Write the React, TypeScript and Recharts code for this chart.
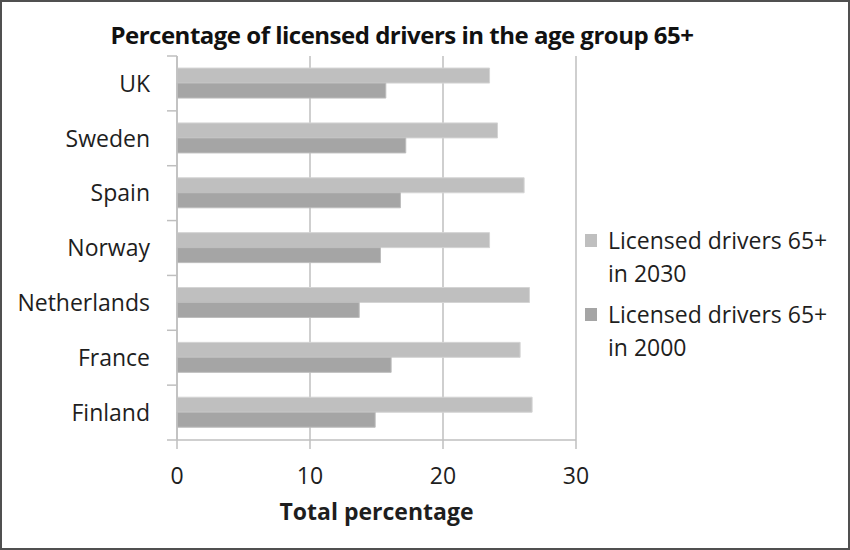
import React from "react";
import {
  Bar,
  BarChart,
  CartesianGrid,
  Legend,
  Label,
  XAxis,
  YAxis
} from "recharts";

const countries = ["UK", "Sweden", "Spain", "Norway", "Netherlands", "France", "Finland"];
const drivers2030 = [23.5, 24.1, 26.1, 23.5, 26.5, 25.8, 26.7];
const drivers2000 = [15.7, 17.2, 16.8, 15.3, 13.7, 16.1, 14.9];
const xTicks = [0, 10, 20, 30];

const SERIES = [
  { key: "y2030", name: "Licensed drivers 65+", sub: "in 2030", color: "#bfbfbf", edge: "#d4d4d4" },
  { key: "y2000", name: "Licensed drivers 65+", sub: "in 2000", color: "#a5a5a5", edge: "#bdbdbd" }
];

const data = countries.map((name, i) => ({
  name,
  y2030: drivers2030[i],
  y2000: drivers2000[i]
}));

const FONT = "'Open Sans', sans-serif";
const TEXT = "#1e1e1e";
const GRID = "#bfbfbf";

const W = 846;
const H = 546;
const M_TOP = 54;
const M_RIGHT = 272;
const Y_W = 175;
const X_H = 108;
const BAND = (H - M_TOP - X_H) / countries.length;

function CountryTick(props: any) {
  const { y, payload, index } = props;
  const last = index === countries.length - 1;
  return (
    <g>
      <line x1={Y_W - 10} x2={Y_W} y1={y - BAND / 2} y2={y - BAND / 2} stroke={GRID} strokeWidth={1.5} />
      {last && (
        <line x1={Y_W - 10} x2={Y_W} y1={y + BAND / 2} y2={y + BAND / 2} stroke={GRID} strokeWidth={1.5} />
      )}
      <text
        x={Y_W - 27}
        y={y}
        dy="0.36em"
        textAnchor="end"
        fill={TEXT}
        fontSize={23}
        fontFamily={FONT}
      >
        {payload.value}
      </text>
    </g>
  );
}

function renderLegend() {
  return (
    <div style={{ fontFamily: FONT, fontSize: 23, color: TEXT }}>
      {SERIES.map((s) => (
        <div key={s.key} style={{ position: "relative", paddingLeft: 23, lineHeight: "33px", marginBottom: 8 }}>
          <span
            style={{
              position: "absolute",
              left: 0,
              top: 10,
              width: 12,
              height: 13,
              background: s.color
            }}
          />
          <div>{s.name}</div>
          <div>{s.sub}</div>
        </div>
      ))}
    </div>
  );
}

export default function App() {
  return (
    <div
      style={{
        position: "absolute",
        left: 0,
        top: 0,
        width: 850,
        height: 550,
        boxSizing: "border-box",
        border: "2px solid #505050",
        background: "#fff"
      }}
    >
      <div
        style={{
          position: "absolute",
          left: 0,
          top: 16,
          width: 800,
          textAlign: "center",
          fontFamily: FONT,
          fontWeight: 700,
          fontSize: 24,
          letterSpacing: -0.5,
          color: "#111"
        }}
      >
        Percentage of licensed drivers in the age group 65+
      </div>
      <BarChart
        width={W}
        height={H}
        data={data}
        layout="vertical"
        margin={{ top: M_TOP, right: M_RIGHT, bottom: 0, left: 0 }}
        barCategoryGap="22%"
        barGap={0}
      >
        <CartesianGrid horizontal={false} stroke={GRID} strokeWidth={1.5} />
        <XAxis
          type="number"
          domain={[0, 30]}
          ticks={xTicks}
          height={X_H}
          stroke={GRID}
          strokeWidth={1.5}
          tickSize={9}
          tickMargin={19}
          tick={{ fill: TEXT, fontSize: 23, fontFamily: FONT }}
        >
          <Label
            value="Total percentage"
            position="insideBottom"
            offset={28}
            fill={TEXT}
            fontSize={23}
            fontWeight={700}
            fontFamily={FONT}
          />
        </XAxis>
        <YAxis
          type="category"
          dataKey="name"
          width={Y_W}
          stroke={GRID}
          strokeWidth={1.5}
          tickLine={false}
          tick={<CountryTick />}
        />
        <Legend
          layout="horizontal"
          verticalAlign="middle"
          align="center"
          content={renderLegend}
          wrapperStyle={{ left: 583, top: 222, width: 260 }}
        />
        {SERIES.map((s) => (
          <Bar
            key={s.key}
            dataKey={s.key}
            name={s.name + " " + s.sub}
            fill={s.color}
            stroke={s.edge}
            strokeWidth={1}
            isAnimationActive={false}
          />
        ))}
      </BarChart>
    </div>
  );
}
